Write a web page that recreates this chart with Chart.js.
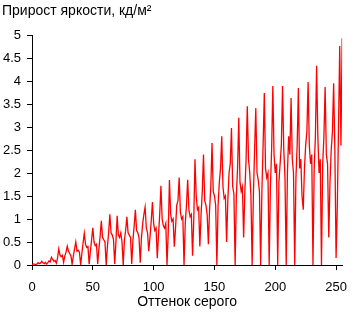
<!DOCTYPE html>
<html>
<head>
<meta charset="utf-8">
<script src="https://cdn.jsdelivr.net/npm/chart.js@4/dist/chart.umd.min.js"></script>
<style>
    html, body { margin: 0; padding: 0; background: #fff; }
</style>
</head>
<body>
<canvas id="chartGain" width="357" height="312"></canvas>
<script>
// Прирост яркости для каждого оттенка серого (0..255)
const brightnessGain = [
    0, 0.02, 0.02, 0.01, 0.02, 0.05, 0.03, 0.04,
    0.08, 0.05, 0.03, 0.06, 0.02, 0.05, 0.09, 0.07,
    0.17, 0.12, 0.08, 0.1, 0.04, 0.15, 0.35, 0.22,
    0.18, 0.21, 0.06, 0.2, 0.28, 0.41, 0.3, 0.25,
    0.2, 0.02, 0.2, 0.35, 0.5, 0.3, 0.32, 0.28,
    0, 0.25, 0.48, 0.69, 0.45, 0.38, 0.4, 0.02,
    0.3, 0.55, 0.81, 0.5, 0.42, 0.45, 0.02, 0.35,
    0.62, 0.96, 0.6, 0.55, 0.5, 0, 0.4, 0.7,
    1.1, 0.7, 0.65, 0.55, 0.02, 0.5, 1.07, 0.65,
    0.6, 0.7, 0.5, 0, 0.55, 0.75, 1.05, 0.7,
    0.65, 0.6, 0.02, 0.55, 0.85, 1.2, 0.75, 0.7,
    0.6, 0.05, 0.6, 0.9, 1.1, 1.26, 0.8, 0.7,
    0.3, 0.6, 0.95, 1.37, 0.9, 0.75, 0.8, 0.15,
    0.65, 1.1, 1.72, 1.0, 0.85, 0.8, 0.9, 0,
    0.7, 1.85, 1.1, 0.95, 1.0, 0.4, 0.8, 1.3,
    1.4, 1.9, 1.15, 1.0, 1.05, 0, 0.9, 1.3,
    1.85, 1.2, 1.05, 1.1, 0.2, 1.0, 2.3, 1.5,
    1.2, 1.25, 0.4, 1.1, 1.6, 2.4, 1.4, 1.3,
    1.1, 0.45, 1.2, 1.7, 2.65, 1.6, 1.5, 1.3,
    0, 1.3, 1.8, 2.1, 2.8, 1.7, 1.45, 1.5,
    0.5, 1.4, 2.0, 2.2, 2.98, 1.7, 1.55, 0,
    1.5, 2.1, 3.2, 1.8, 1.6, 1.7, 0.6, 1.6,
    2.3, 3.45, 2.3, 2.0, 1.5, 0, 1.5, 2.5,
    3.41, 2.0, 1.85, 1.6, 0, 1.6, 2.6, 3.74,
    2.1, 1.9, 2.0, 0, 1.7, 2.5, 3.89, 2.4,
    2.0, 2.2, 0, 1.8, 2.2, 2.6, 3.89, 2.5,
    1.9, 0, 2.0, 2.8, 2.4, 3.63, 2.3, 2.0,
    0, 1.9, 2.6, 3.85, 2.1, 2.3, 1.5, 1.2,
    2.1, 2.6, 2.9, 3.98, 2.6, 2.2, 2.4, 0,
    2.1, 2.8, 4.33, 2.8, 2.0, 2.3, 0, 2.2,
    2.8, 3.87, 2.4, 2.2, 0.6, 1.8, 2.5, 2.9,
    3.95, 2.5, 0.15, 1.25, 3.0, 4.76, 2.6, 4.93
];

const xTicks = [0, 50, 100, 150, 200, 250];
const yTicks = [0, 0.5, 1, 1.5, 2, 2.5, 3, 3.5, 4, 4.5, 5];

const chartTitle = 'Прирост яркости, кд/м²';
const xTitle = 'Оттенок серого';

const fontFamily = '"Liberation Sans", Arial, sans-serif';

// Точки: x = оттенок (индекс), y = прирост
const points = brightnessGain.map((v, i) => ({ x: i, y: v }));

const ctx = document.getElementById('chartGain').getContext('2d');
const chart = new Chart(ctx, {
    type: 'line',
    data: {
        datasets: [{
            data: points,
            borderColor: '#ff0000',
            borderWidth: 1.3,
            pointRadius: 0,
            tension: 0,
            fill: false
        }]
    },
    options: {
        responsive: false,
        animation: false,
        layout: {
            padding: { left: 2, right: 4, top: 0, bottom: 0 }
        },
        plugins: {
            legend: { display: false },
            tooltip: { enabled: false },
            title: {
                display: true,
                text: chartTitle,
                align: 'start',
                color: '#000',
                font: { family: fontFamily, size: 14, weight: 'normal', lineHeight: 1.2 },
                padding: { top: 2.5, bottom: 15.7 }
            }
        },
        scales: {
            x: {
                type: 'linear',
                min: 0,
                max: 255,
                afterBuildTicks: scale => {
                    scale.ticks = xTicks.map(v => ({ value: v }));
                },
                afterFit: scale => { scale.height = 47; },
                grid: {
                    drawOnChartArea: false,
                    drawTicks: true,
                    tickLength: 5,
                    color: '#000'
                },
                border: { display: true, color: '#000', width: 1 },
                ticks: {
                    color: '#000',
                    padding: 10,
                    maxRotation: 0,
                    font: { family: fontFamily, size: 13 }
                },
                title: {
                    display: true,
                    text: xTitle,
                    color: '#000',
                    font: { family: fontFamily, size: 14, lineHeight: 1.2 },
                    padding: { top: 0, bottom: 1 }
                }
            },
            y: {
                type: 'linear',
                min: 0,
                max: 5,
                afterBuildTicks: scale => {
                    scale.ticks = yTicks.map(v => ({ value: v }));
                },
                afterFit: scale => { scale.width = 30; },
                grid: {
                    drawOnChartArea: false,
                    drawTicks: true,
                    tickLength: 5,
                    color: '#000'
                },
                border: { display: true, color: '#000', width: 1 },
                ticks: {
                    color: '#000',
                    padding: 6,
                    font: { family: fontFamily, size: 13 },
                    callback: value => String(value)
                }
            }
        }
    }
});
</script>
</body>
</html>
